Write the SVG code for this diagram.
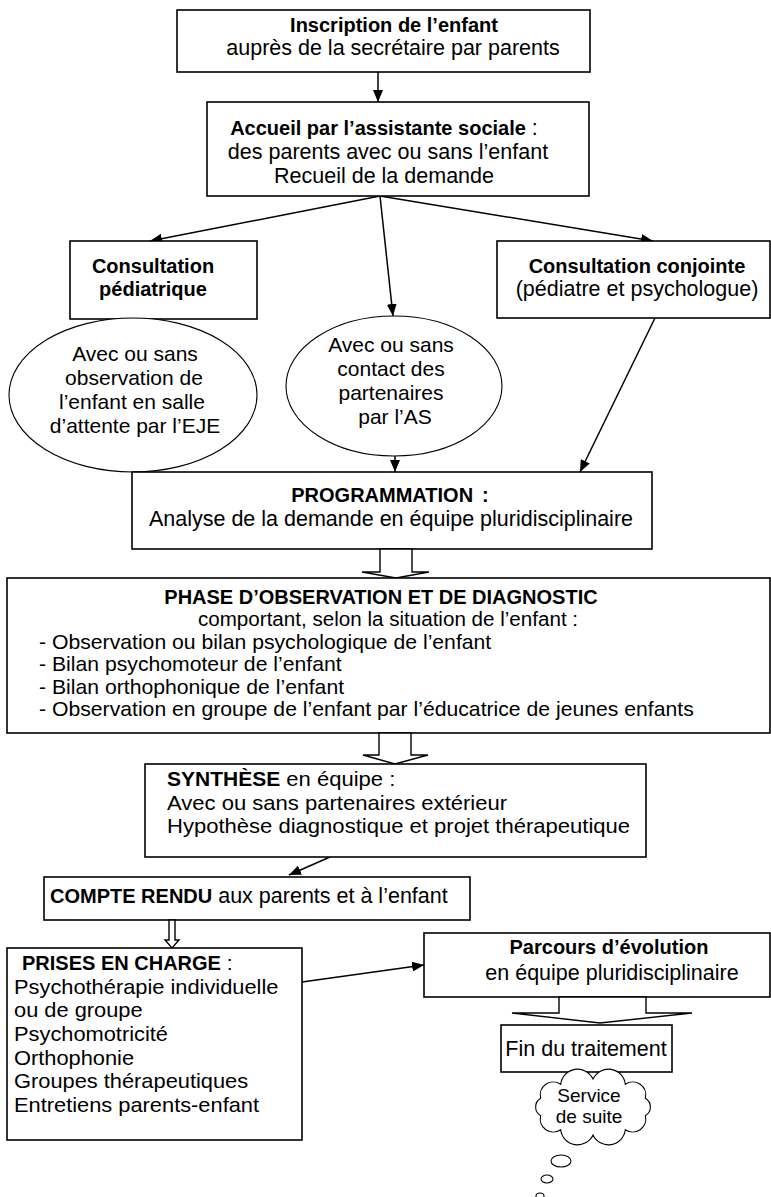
<svg xmlns="http://www.w3.org/2000/svg" width="771" height="1197" viewBox="0 0 771 1197">
  <defs>
    <marker id="arrow" viewBox="0 0 12 10" refX="12" refY="5" markerWidth="12" markerHeight="10" markerUnits="userSpaceOnUse" orient="auto">
      <path d="M0,0 L12,5 L0,10 Z" fill="#000"/>
    </marker>
    <style>
      .box { fill: #fff; stroke: #000; stroke-width: 1.6; }
      .oval { fill: #fff; stroke: #000; stroke-width: 1.1; }
      .hollow { fill: #fff; stroke: #000; stroke-width: 1.4; stroke-linejoin: miter; }
      .link { fill: none; stroke: #000; stroke-width: 1.5; marker-end: url(#arrow); }
      text { font-family: "Liberation Sans", Arial, Helvetica, sans-serif; font-size: 21.5px; fill: #000; }
      .c { text-anchor: middle; }
      .b { font-weight: bold; font-size: 20px; }
      .s { font-size: 19px; }
      /* tighter leading: slightly smaller glyphs, widened by the transform */
      .n { font-size: 20px; }
      .m { font-size: 21px; }
    </style>
  </defs>

  <rect width="771" height="1197" fill="#fff"/>

  <!-- connectors -->
  <g id="connectors">
    <line class="link" x1="378" y1="72" x2="378" y2="102"/>
    <line class="link" x1="380" y1="196" x2="150" y2="241"/>
    <line class="link" x1="380" y1="196" x2="393" y2="316"/>
    <line class="link" x1="380" y1="196" x2="653" y2="241"/>
    <line class="link" x1="655" y1="318" x2="580" y2="472"/>
    <line class="link" x1="395" y1="456" x2="395" y2="472"/>
    <line class="link" x1="330" y1="857" x2="289" y2="875"/>
    <line class="link" x1="302" y1="982" x2="424" y2="965"/>
  </g>

  <!-- inscription -->
  <g id="inscription">
    <rect class="box" x="177" y="10" width="413" height="62"/>
    <text class="c b" x="394" y="32">Inscription de l’enfant</text>
    <text class="c" x="393" y="55">auprès de la secrétaire par parents</text>
  </g>

  <!-- accueil -->
  <g id="accueil">
    <rect class="box" x="207" y="102" width="382" height="94"/>
    <text class="c" x="384" y="135"><tspan class="b">Accueil par l’assistante sociale</tspan> :</text>
    <text class="c" x="388" y="159">des parents avec ou sans l’enfant</text>
    <text class="c" x="384" y="183">Recueil de la demande</text>
  </g>

  <!-- consultation pediatrique -->
  <g id="consult-pediatrique">
    <rect class="box" x="70" y="241" width="187" height="78"/>
    <text class="c b" x="153" y="273">Consultation</text>
    <text class="c b" x="153" y="296">pédiatrique</text>
  </g>

  <!-- consultation conjointe -->
  <g id="consult-conjointe">
    <rect class="box" x="497" y="241" width="273" height="77"/>
    <text class="c b" x="637" y="273">Consultation conjointe</text>
    <text class="c" x="637" y="296">(pédiatre et psychologue)</text>
  </g>

  <!-- observation EJE -->
  <g id="observation-eje">
    <ellipse class="oval" cx="133" cy="395" rx="124" ry="77"/>
    <text class="c m" x="135" y="361">Avec ou sans</text>
    <text class="c m" x="134" y="385">observation de</text>
    <text class="c m" x="132" y="409">l’enfant en salle</text>
    <text class="c m" x="135" y="433">d’attente par l’EJE</text>
  </g>

  <!-- contact partenaires -->
  <g id="contact-partenaires">
    <ellipse class="oval" cx="394" cy="386" rx="108" ry="70"/>
    <text class="c m" x="391" y="352">Avec ou sans</text>
    <text class="c m" x="391" y="376">contact des</text>
    <text class="c m" x="391" y="400">partenaires</text>
    <text class="c m" x="395" y="424">par l’AS</text>
  </g>

  <!-- programmation -->
  <g id="programmation">
    <rect class="box" x="132" y="472" width="520" height="77"/>
    <text class="c b" x="390" y="502">PROGRAMMATION<tspan dx="9">:</tspan></text>
    <text class="c" x="391" y="526">Analyse de la demande en équipe pluridisciplinaire</text>
  </g>

  <polygon id="flow-prog-phase" class="hollow" points="380,549 412,549 412,572 429,572 396,578 362,572 380,572"/>

  <!-- observation et diagnostic -->
  <g id="phase-diagnostic">
    <rect class="box" x="7" y="578" width="763" height="155"/>
    <text class="c b" x="381" y="604">PHASE D’OBSERVATION ET DE DIAGNOSTIC</text>
    <text class="c n" transform="translate(388,626.4) scale(1.03,1)">comportant, selon la situation de l’enfant :</text>
    <text class="n" transform="translate(39,648.8) scale(1.06,1)">- Observation ou bilan psychologique de l’enfant</text>
    <text class="n" transform="translate(39,671.2) scale(1.06,1)">- Bilan psychomoteur de l’enfant</text>
    <text class="n" transform="translate(39,693.6) scale(1.06,1)">- Bilan orthophonique de l’enfant</text>
    <text class="n" transform="translate(39,716) scale(1.06,1)">- Observation en groupe de l’enfant par l’éducatrice de jeunes enfants</text>
  </g>

  <polygon id="flow-phase-synthese" class="hollow" points="379,733 411,733 411,755 428,755 395,764 363,755 379,755"/>

  <!-- synthese -->
  <g id="synthese">
    <rect class="box" x="145" y="764" width="501" height="93"/>
    <text class="m" transform="translate(167,786) scale(1.05,1)"><tspan class="b">SYNTHÈSE</tspan> en équipe :</text>
    <text class="m" transform="translate(167,809.5) scale(1.05,1)">Avec ou sans partenaires extérieur</text>
    <text class="m" transform="translate(167,833) scale(1.05,1)">Hypothèse diagnostique et projet thérapeutique</text>
  </g>

  <!-- compte rendu -->
  <g id="compte-rendu">
    <rect class="box" x="44" y="877" width="426" height="43"/>
    <text x="50" y="903"><tspan class="b">COMPTE RENDU</tspan> aux parents et à l’enfant</text>
  </g>

  <polygon id="flow-compte-prises" class="hollow" points="169,920 175,920 175,940 179,940 172,948 165,940 169,940"/>

  <!-- prises en charge -->
  <g id="prises-en-charge">
    <rect class="box" x="7" y="948" width="295" height="192"/>
    <text class="m" x="22" y="970"><tspan class="b">PRISES EN CHARGE</tspan> :</text>
    <text class="m" transform="translate(14,993.7) scale(1.04,1)">Psychothérapie individuelle</text>
    <text class="m" transform="translate(14,1017.3) scale(1.04,1)">ou de groupe</text>
    <text class="m" transform="translate(14,1041) scale(1.04,1)">Psychomotricité</text>
    <text class="m" transform="translate(14,1064.7) scale(1.04,1)">Orthophonie</text>
    <text class="m" transform="translate(14,1088.3) scale(1.04,1)">Groupes thérapeutiques</text>
    <text class="m" transform="translate(14,1112) scale(1.04,1)">Entretiens parents-enfant</text>
  </g>

  <!-- parcours -->
  <g id="parcours">
    <rect class="box" x="424" y="933" width="346" height="64"/>
    <text class="c b" x="609" y="954">Parcours d’évolution</text>
    <text class="c" x="612" y="980">en équipe pluridisciplinaire</text>
  </g>

  <polygon id="flow-parcours-fin" class="hollow" points="559,997 646,997 646,1013 692,1013 600,1023 512,1013 559,1013"/>

  <!-- fin du traitement -->
  <g id="fin-traitement">
    <rect class="box" x="501" y="1025" width="171" height="47"/>
    <text class="c" x="586" y="1056">Fin du traitement</text>
  </g>

  <!-- service de suite -->
  <g id="service-suite">
    <path class="oval" d="M593,1079 A17,17 0 0 1 625.3,1084.3 A13,13 0 0 1 645.3,1098.3 A10,10 0 0 1 645.3,1115.7 A13,13 0 0 1 625.3,1129.7 A17,17 0 0 1 593,1135 A17,17 0 0 1 560.7,1129.7 A13,13 0 0 1 540.7,1115.7 A10,10 0 0 1 540.7,1098.3 A13,13 0 0 1 560.7,1084.3 A17,17 0 0 1 593,1079 Z"/>
    <text class="c s" x="589" y="1102">Service</text>
    <text class="c s" x="589" y="1123">de suite</text>
    <ellipse class="oval" cx="561" cy="1161" rx="10" ry="6"/>
    <ellipse class="oval" cx="547" cy="1179" rx="6" ry="4"/>
    <ellipse class="oval" cx="540" cy="1196" rx="4" ry="3"/>
  </g>
</svg>
